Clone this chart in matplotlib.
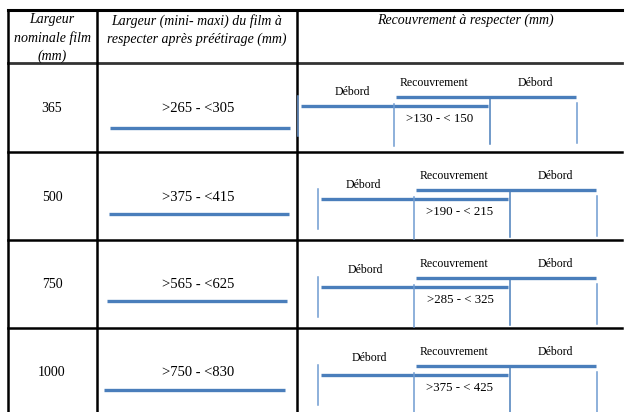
import matplotlib.pyplot as plt

# contenu du tableau
nominal = ["365", "500", "750", "1000"]
largeur = [">265 - <305", ">375 - <415", ">565 - <625", ">750 - <830"]
recouvrement = [">130 - < 150", ">190 - < 215", ">285 - < 325", ">375 - < 425"]
headers = ["Largeur\nnominale film\n(mm)",
           "Largeur (mini- maxi) du film à\nrespecter après préétirage (mm)",
           "Recouvrement à respecter (mm)"]

BLUE = '#4a7ebb'
LIGHT = '#6f9bd1'

plt.rcParams['font.family'] = ['Liberation Serif', 'DejaVu Serif']
fig = plt.figure(figsize=(6.25, 4.12), dpi=100)
ax = fig.add_axes([0, 0, 1, 1])
ax.set_xlim(0, 625)
ax.set_ylim(412, 0)
ax.axis('off')

# grille (pixels)
col_x = [8, 97, 297, 622]
row_y = [10, 63, 152, 240, 328, 412]

ax.plot([8, 622], [10, 10], color='black', lw=2.2)
ax.plot([8, 622], [63, 63], color='#333333', lw=2.0)
for y in row_y[2:5]:
    ax.plot([8, 622], [y, y], color='black', lw=1.8)
for x in col_x[:3]:
    ax.plot([x, x], [10, 412], color='black', lw=1.8)

# en-tetes
ax.text(52, 38, headers[0], ha='center', va='center', style='italic',
        fontsize=10, linespacing=1.5)
ax.text(197, 30, headers[1], ha='center', va='center', style='italic',
        fontsize=10, linespacing=1.5)
ax.text(465, 20, headers[2], ha='center', va='center', style='italic',
        fontsize=10)

# positions propres a chaque ligne
text_y = [108, 197, 285, 373]
bar_y = [128, 214, 301, 390]
bar_x = [(110, 290), (109, 289), (107, 287), (104, 285)]
dx = [-20, 0, 0, 0]
dy = [-4, 0, 0, 0]
deb_x = [54, 45, 47, 51]
deb_y = [33, 33, 30, 30]

for i in range(4):
    ax.text(52, text_y[i], nominal[i], ha='center', va='center', fontsize=10)
    ax.text(198, text_y[i], largeur[i], ha='center', va='center', fontsize=10.5)
    ax.plot(bar_x[i], [bar_y[i]] * 2, color=BLUE, lw=2.4, solid_capstyle='butt')

    x0 = 318 + dx[i]
    y0 = row_y[i + 1] + dy[i]
    # lignes du film
    ax.plot([x0 + 98, x0 + 278], [y0 + 38, y0 + 38], color=BLUE, lw=2.4,
            solid_capstyle='butt')
    ax.plot([x0 + 3, x0 + 190], [y0 + 47, y0 + 47], color=BLUE, lw=2.4,
            solid_capstyle='butt')
    # reperes verticaux
    ax.plot([x0, x0], [y0 + 37, y0 + 77], color=LIGHT, lw=1.1)
    ax.plot([x0 + 96, x0 + 96], [y0 + 45, min(y0 + 87, 412)], color=LIGHT, lw=1.1)
    ax.plot([x0 + 192, x0 + 192], [y0 + 40, min(y0 + 85, 412)], color=BLUE, lw=1.1)
    ax.plot([x0 + 279, x0 + 279], [y0 + 44, min(y0 + 84, 412)], color=LIGHT, lw=1.1)
    # textes
    ax.text(x0 + deb_x[i], y0 + deb_y[i], "Débord", ha='center', va='center',
            fontsize=8.5)
    ax.text(x0 + 136, y0 + 24, "Recouvrement", ha='center', va='center',
            fontsize=8.5)
    ax.text(x0 + 237, y0 + 24, "Débord", ha='center', va='center', fontsize=8.5)
    ax.text(x0 + 142, y0 + 60, recouvrement[i], ha='center', va='center',
            fontsize=9.3)

fig.savefig('out.png', dpi=100, facecolor='white')
